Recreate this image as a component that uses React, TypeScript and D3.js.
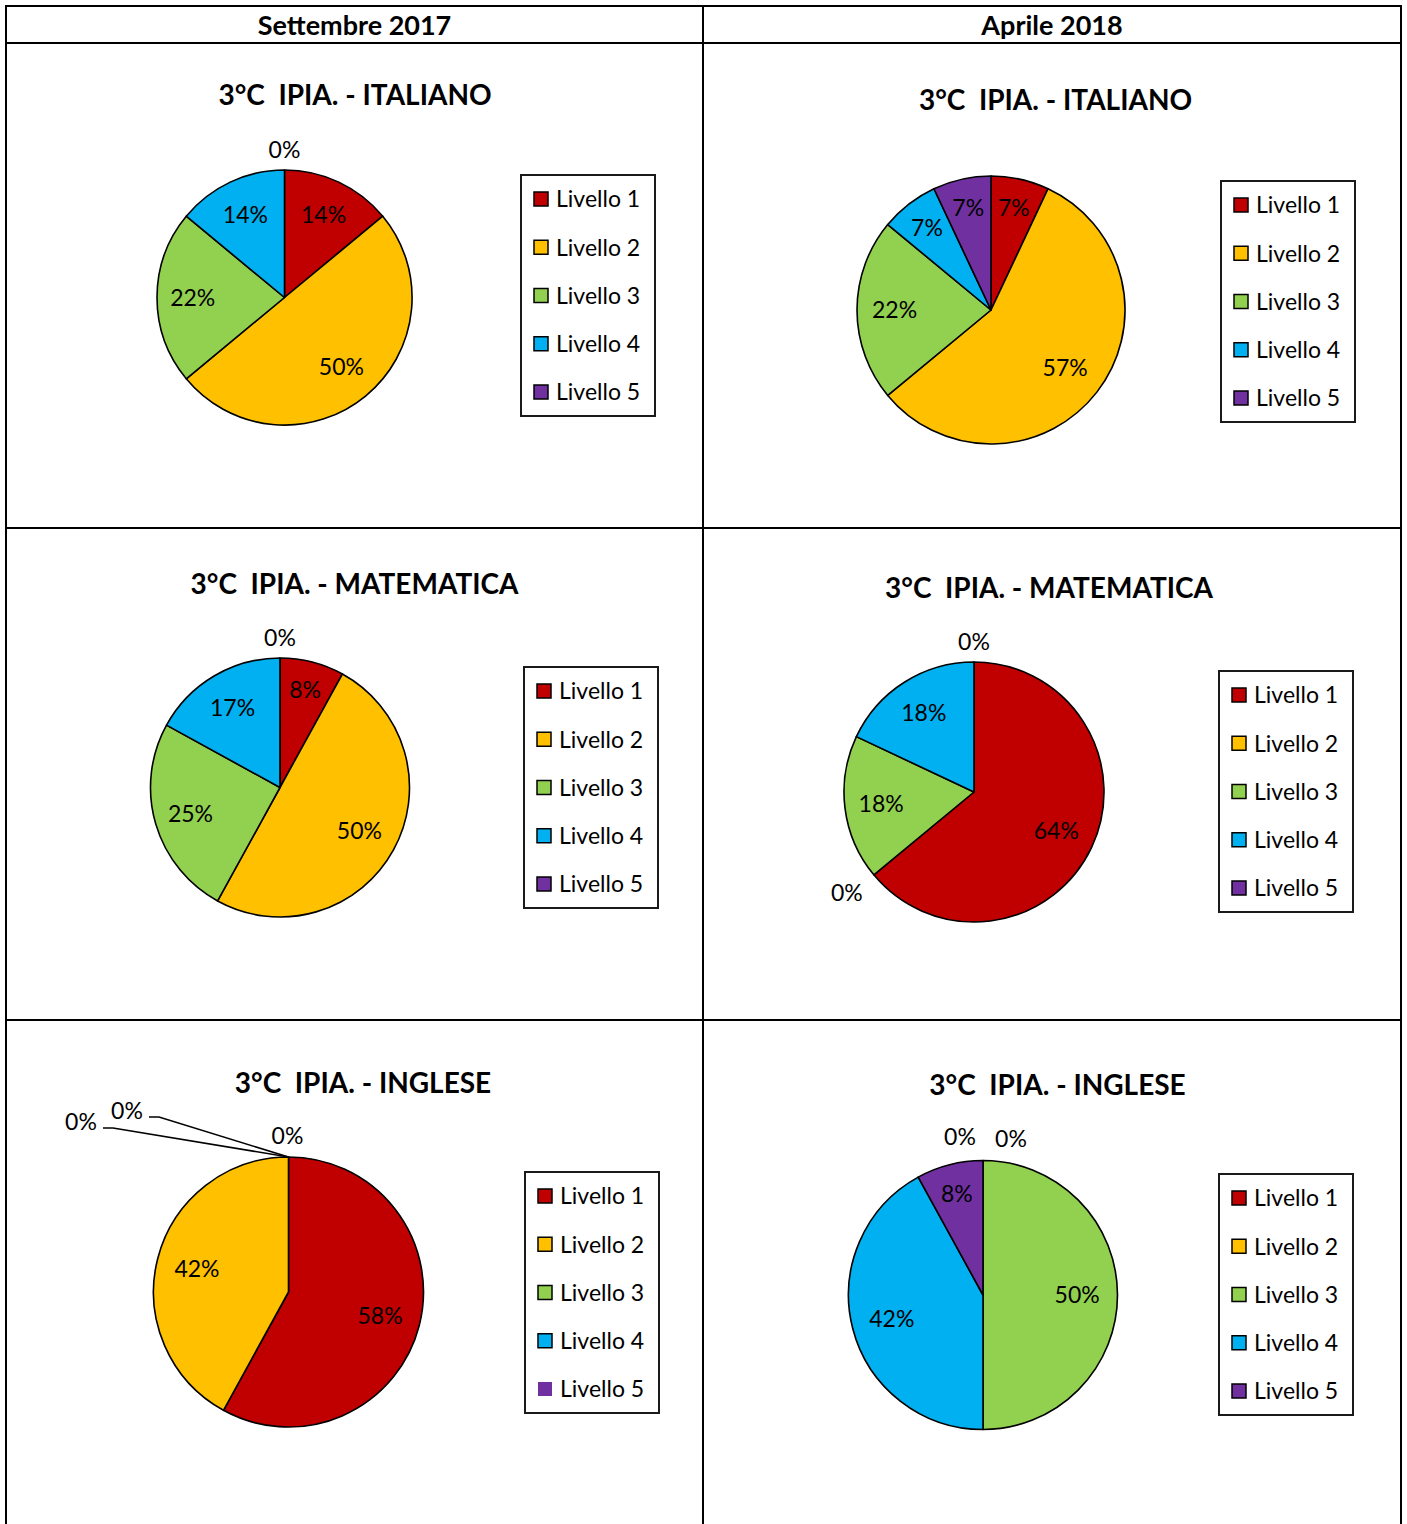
import React from "react";
import * as d3 from "d3";

// ---------- data ----------
const categories = ["Livello 1", "Livello 2", "Livello 3", "Livello 4", "Livello 5"];
const periods = ["Settembre 2017", "Aprile 2018"];
const subjects = ["ITALIANO", "MATEMATICA", "INGLESE"];
const classPrefix = "3°C  IPIA. - ";

const italianoSett = [14, 50, 22, 14, 0];
const italianoApr = [7, 57, 22, 7, 7];
const matematicaSett = [8, 50, 25, 17, 0];
const matematicaApr = [64, 0, 18, 18, 0];
const ingleseSett = [58, 42, 0, 0, 0];
const ingleseApr = [0, 0, 50, 42, 8];

// ---------- styles / layout ----------
const palette = ["#C00000", "#FFC000", "#92D050", "#00B0F0", "#7030A0"];
const FONT = "Lato, 'Open Sans', 'DejaVu Sans', sans-serif";
const W = 1407;
const H = 1524;

type ZeroShift = { dx: number; dy: number; leader?: boolean };

interface PanelLayout {
  values: number[];
  subject: number;
  cx: number;
  cy: number;
  r: number;
  tx: number;
  ty: number;
  lx: number;
  ly: number;
  zeroShifts?: ZeroShift[];
  noSwatchBorder?: number[];
}

const panels: PanelLayout[] = [
  { values: italianoSett, subject: 0, cx: 284.5, cy: 297.5, r: 127.5, tx: 355, ty: 105, lx: 521, ly: 175 },
  { values: italianoApr, subject: 0, cx: 991, cy: 310, r: 134, tx: 1055.5, ty: 110, lx: 1221, ly: 181 },
  { values: matematicaSett, subject: 1, cx: 280, cy: 787.5, r: 129.5, tx: 354.5, ty: 594, lx: 524, ly: 667 },
  { values: matematicaApr, subject: 1, cx: 974, cy: 792, r: 130, tx: 1049, ty: 598, lx: 1219, ly: 671 },
  {
    values: ingleseSett, subject: 2, cx: 288.5, cy: 1292, r: 135, tx: 363, ty: 1093, lx: 525, ly: 1172,
    zeroShifts: [{ dx: -1, dy: -1 }, { dx: -161.5, dy: -26, leader: true }, { dx: -207.5, dy: -15, leader: true }],
    noSwatchBorder: [4],
  },
  {
    values: ingleseApr, subject: 2, cx: 983, cy: 1295, r: 134.5, tx: 1057.5, ty: 1095, lx: 1219, ly: 1174,
    zeroShifts: [{ dx: -23, dy: -4 }, { dx: 28, dy: -2 }],
  },
];

const LABEL_FS = 23;
const LEGEND_FS = 23;
const TITLE_FS = 28;
const HEADER_FS = 27;
const CAP = 0.36; // half cap-height factor for vertical centering

function Pie({ p }: { p: PanelLayout }) {
  const pie = d3.pie<number>().sort(null).value((d) => d).startAngle(0).endAngle(2 * Math.PI);
  const arcs = pie(p.values);
  const arcGen = d3.arc<d3.PieArcDatum<number>>().innerRadius(0).outerRadius(p.r);

  const zeroIndexByAngle = new Map<string, number>();
  const labels: React.ReactNode[] = [];
  const halfW = 17;
  const halfH = 12;

  arcs.forEach((a, i) => {
    const text = `${a.data}%`;
    if (a.data > 0) {
      const k = a.data < 10 ? 0.78 : a.data >= 40 ? 0.7 : 0.72;
      const [x, y] = d3.arc<d3.PieArcDatum<number>>().innerRadius(p.r * k).outerRadius(p.r * k).centroid(a);
      labels.push(
        <text key={`l${i}`} x={p.cx + x} y={p.cy + y + LABEL_FS * CAP} textAnchor="middle" fontSize={LABEL_FS} fontFamily={FONT} fill="#000">
          {text}
        </text>
      );
    } else {
      const ang = a.startAngle;
      const keyA = ang.toFixed(4);
      const order = zeroIndexByAngle.get(keyA) ?? 0;
      zeroIndexByAngle.set(keyA, order + 1);
      const dx = Math.sin(ang);
      const dy = -Math.cos(ang);
      const m = Math.max(Math.abs(dx), Math.abs(dy));
      const gap = 8 + 10 * Math.abs(dx * dy);
      const ax = p.cx + dx * p.r;
      const ay = p.cy + dy * p.r;
      let lx = p.cx + dx * (p.r + gap) + halfW * (dx / m);
      let ly = p.cy + dy * (p.r + gap) + halfH * (dy / m);
      let leader: React.ReactNode = null;
      const shift = p.zeroShifts && p.zeroShifts[order];
      if (shift) {
        lx += shift.dx;
        ly += shift.dy;
        if (shift.leader) {
          const sx = lx + 22;
          const sy = ly + 6;
          leader = (
            <polyline key={`ld${i}`} points={`${sx},${sy} ${sx + 10},${sy} ${ax},${ay}`} fill="none" stroke="#000" strokeWidth={1.5} />
          );
        }
      }
      if (leader) labels.push(leader);
      labels.push(
        <text key={`l${i}`} x={lx} y={ly + LABEL_FS * CAP} textAnchor="middle" fontSize={LABEL_FS} fontFamily={FONT} fill="#000">
          {text}
        </text>
      );
    }
  });

  return (
    <g>
      <g transform={`translate(${p.cx},${p.cy})`}>
        {arcs.map((a, i) =>
          a.data > 0 ? (
            <path key={i} d={arcGen(a) || ""} fill={palette[i]} stroke="#000" strokeWidth={1.6} strokeLinejoin="round" />
          ) : null
        )}
      </g>
      {labels}
    </g>
  );
}

function Legend({ p }: { p: PanelLayout }) {
  const w = 134;
  const h = 241;
  const step = 48.25;
  const sw = 14;
  return (
    <g>
      <rect x={p.lx} y={p.ly} width={w} height={h} fill="#fff" stroke="#1a1a1a" strokeWidth={2} />
      {categories.map((c, i) => {
        const cy = p.ly + 24 + i * step;
        const noBorder = p.noSwatchBorder && p.noSwatchBorder.includes(i);
        return (
          <g key={c}>
            <rect
              x={p.lx + 13}
              y={cy - sw / 2}
              width={sw}
              height={sw}
              fill={palette[i]}
              stroke={noBorder ? "none" : "#000"}
              strokeWidth={1.5}
            />
            <text x={p.lx + 35} y={cy + LEGEND_FS * CAP} fontSize={LEGEND_FS} fontFamily={FONT} fill="#000">
              {c}
            </text>
          </g>
        );
      })}
    </g>
  );
}

export default function App() {
  const colX = [6, 703, 1401];
  const rowY = [6, 43, 528, 1020];
  const headerCenters = [(colX[0] + colX[1]) / 2, (colX[1] + colX[2]) / 2];
  return (
    <svg
      width={W}
      height={H}
      viewBox={`0 0 ${W} ${H}`}
      style={{ position: "absolute", left: 0, top: 0, display: "block", background: "#fff" }}
    >
      <rect x={0} y={0} width={W} height={H} fill="#fff" />
      {rowY.map((y) => (
        <line key={`h${y}`} x1={colX[0] - 1} x2={colX[2] + 1} y1={y} y2={y} stroke="#000" strokeWidth={2} />
      ))}
      {colX.map((x) => (
        <line key={`v${x}`} x1={x} x2={x} y1={rowY[0] - 1} y2={H} stroke="#000" strokeWidth={2} />
      ))}
      {periods.map((t, i) => (
        <text
          key={t}
          x={headerCenters[i]}
          y={35}
          textAnchor="middle"
          fontSize={HEADER_FS}
          fontWeight="bold"
          fontFamily={FONT}
          fill="#000"
        >
          {t}
        </text>
      ))}
      {panels.map((p, i) => (
        <g key={i}>
          <text
            x={p.tx}
            y={p.ty}
            textAnchor="middle"
            fontSize={TITLE_FS}
            fontWeight="bold"
            fontFamily={FONT}
            fill="#000"
            style={{ whiteSpace: "pre" }}
          >
            {classPrefix + subjects[p.subject]}
          </text>
          <Pie p={p} />
          <Legend p={p} />
        </g>
      ))}
    </svg>
  );
}
